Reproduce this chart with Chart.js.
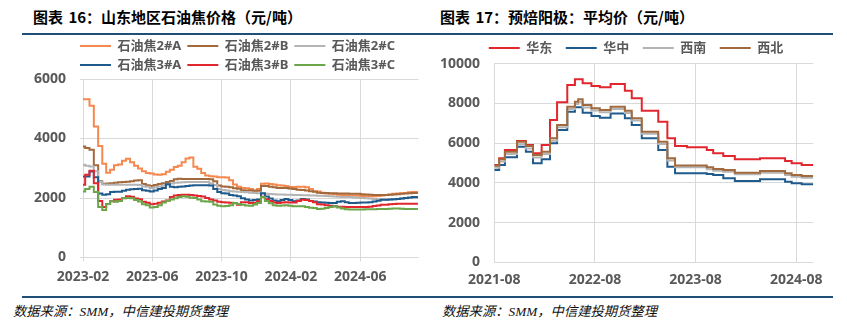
<!DOCTYPE html>
<html><head><meta charset="utf-8">
<script src="https://cdn.jsdelivr.net/npm/chart.js@4.4.1/dist/chart.umd.min.js"></script>
<style>
html,body{margin:0;padding:0;background:#fff;}
body{width:847px;height:334px;position:relative;overflow:hidden;}
.title{position:absolute;top:8px;line-height:18px;font-family:"Noto Sans CJK SC",sans-serif;font-weight:700;font-size:15px;word-spacing:2px;color:#000;white-space:nowrap;}
.rule{position:absolute;left:22px;width:811px;height:2px;background:#1F4E79;}
.src{position:absolute;top:304px;line-height:16px;font-family:"Liberation Serif","Noto Sans CJK SC",serif;font-style:italic;font-size:13.3px;color:#111;white-space:nowrap;}
canvas{position:absolute;top:0;}
</style></head>
<body>
<div class="title" style="left:33px">图表 16：山东地区石油焦价格（元/吨）</div>
<div class="title" style="left:440px">图表 17：预焙阳极：平均价（元/吨）</div>
<div class="rule" style="top:33px"></div>
<div class="rule" style="top:296px"></div>
<div class="src" style="left:13px">数据来源：SMM，中信建投期货整理</div>
<div class="src" style="left:442px">数据来源：SMM，中信建投期货整理</div>
<canvas id="c1" width="420" height="334" style="left:0;width:420px;height:334px"></canvas>
<canvas id="c2" width="427" height="334" style="left:420px;width:427px;height:334px"></canvas>
<script>
// ---------- Chart 1: 山东地区石油焦价格 (weekly) ----------
const dates1 = ['2023-02-01','2023-02-08','2023-02-15','2023-02-22','2023-03-01','2023-03-08','2023-03-15','2023-03-22','2023-03-29','2023-04-05',
'2023-04-12','2023-04-19','2023-04-26','2023-05-03','2023-05-10','2023-05-17','2023-05-24','2023-05-31','2023-06-07','2023-06-14',
'2023-06-21','2023-06-28','2023-07-05','2023-07-12','2023-07-19','2023-07-26','2023-08-02','2023-08-09','2023-08-16','2023-08-23',
'2023-08-30','2023-09-06','2023-09-13','2023-09-20','2023-09-27','2023-10-04','2023-10-11','2023-10-18','2023-10-25','2023-11-01',
'2023-11-08','2023-11-15','2023-11-22','2023-11-29','2023-12-06','2023-12-13','2023-12-20','2023-12-27','2024-01-03','2024-01-10',
'2024-01-17','2024-01-24','2024-01-31','2024-02-07','2024-02-14','2024-02-21','2024-02-28','2024-03-06','2024-03-13','2024-03-20',
'2024-03-27','2024-04-03','2024-04-10','2024-04-17','2024-04-24','2024-05-01','2024-05-08','2024-05-15','2024-05-22','2024-05-29',
'2024-06-05','2024-06-12','2024-06-19','2024-06-26','2024-07-03','2024-07-10','2024-07-17','2024-07-24','2024-07-31','2024-08-07',
'2024-08-14','2024-08-21','2024-08-28','2024-09-04','2024-09-11'];
const names1 = ['石油焦2#A','石油焦2#B','石油焦2#C','石油焦3#A','石油焦3#B','石油焦3#C'];
const coke2A = [5320,5320,5100,4400,3750,3150,2850,2950,3100,3130,3250,3320,3200,3080,2990,2900,2840,2820,2790,2780,
2800,2880,2950,3040,3080,3200,3330,3360,3050,2980,2840,2760,2730,2720,2700,2700,2690,2600,2450,2380,
2340,2330,2300,2250,2300,2480,2490,2470,2450,2430,2420,2400,2370,2370,2380,2380,2360,2300,2230,2220,
2180,2150,2140,2130,2110,2100,2090,2080,2080,2077,2070,2060,2055,2060,2070,2080,2100,2120,2140,2150,
2160,2170,2190,2200,2200];
const coke2B = [3730,3680,3620,3100,2560,2480,2490,2500,2510,2530,2540,2550,2560,2590,2600,2470,2430,2400,2440,2470,
2500,2540,2570,2630,2650,2640,2640,2640,2640,2640,2640,2640,2630,2560,2420,2390,2380,2360,2330,2310,
2260,2250,2250,2245,2245,2400,2400,2380,2360,2340,2335,2335,2320,2300,2280,2270,2250,2230,2210,2180,
2170,2165,2160,2160,2155,2150,2150,2145,2145,2140,2130,2120,2110,2100,2100,2100,2100,2110,2120,2130,
2140,2150,2160,2165,2165];
const coke2C = [3115,3080,3060,2900,2550,2450,2445,2445,2445,2445,2445,2445,2445,2445,2440,2390,2380,2340,2360,2390,
2420,2460,2490,2510,2520,2530,2535,2535,2535,2535,2535,2535,2500,2440,2300,2270,2250,2230,2220,2210,
2200,2190,2180,2165,2160,2150,2140,2135,2130,2120,2115,2110,2110,2105,2100,2095,2090,2085,2080,2077,
2075,2070,2060,2050,2040,2035,2030,2030,2020,2010,2000,1990,1980,1970,1960,1950,1945,1950,1960,1970,
1980,1990,2000,2000,2000];
const coke3A = [2725,2725,2890,2700,2150,2110,2130,2200,2210,2210,2240,2280,2290,2300,2310,2260,2240,2220,2250,2300,
2335,2460,2380,2360,2380,2390,2400,2420,2425,2425,2425,2425,2420,2300,2200,2160,2150,2100,2080,2055,
1990,1950,1920,1930,1950,2160,2050,1980,1920,1890,1930,1965,1930,1890,1920,1965,1950,1900,1880,1860,
1850,1840,1830,1830,1870,1890,1860,1830,1830,1840,1850,1850,1860,1880,1910,1940,1945,1950,1960,1965,
1980,2000,2020,2030,2030];
const coke3B = [2445,2780,2915,2500,1900,1700,1800,1890,1940,1950,1990,2060,2040,1980,1960,1870,1840,1790,1810,1840,
1880,1920,2030,2080,2100,2110,2110,2100,2080,2070,2050,2000,1950,1920,1870,1860,1850,1840,1820,1775,
1860,1860,1830,1840,1890,2040,1960,1900,1850,1830,1850,1860,1850,1850,1900,1945,1930,1900,1860,1790,
1780,1760,1740,1720,1710,1705,1700,1700,1700,1700,1700,1700,1710,1730,1750,1770,1775,1790,1800,1810,
1810,1810,1810,1810,1810];
const coke3C = [2220,2300,2380,2200,1700,1600,1800,1890,1870,1900,2000,2000,1990,1930,1880,1790,1760,1680,1700,1760,
1850,1910,1950,1990,2030,2055,2040,2010,2000,1950,1890,1880,1870,1780,1740,1720,1730,1760,1830,1800,
1775,1750,1740,1780,1830,2030,1900,1820,1760,1740,1750,1760,1740,1720,1720,1720,1700,1670,1665,1630,
1640,1665,1700,1720,1680,1650,1620,1610,1610,1610,1615,1620,1620,1625,1630,1630,1630,1640,1650,1650,
1640,1630,1630,1630,1630];
const xTicks1 = ['2023-02','2023-06','2023-10','2024-02','2024-06'];
const yTicks1 = [0,2000,4000,6000];
const xStart1 = '2023-02-01', xEnd1 = '2024-09-12';

// ---------- Chart 2: 预焙阳极平均价 (step changes) ----------
const dates2 = ['2021-08-01','2021-08-19','2021-09-09','2021-10-23','2021-11-24','2021-12-20','2022-01-21','2022-02-19','2022-03-16','2022-04-22',
'2022-05-20','2022-06-01','2022-06-17','2022-07-19','2022-08-19','2022-09-27','2022-11-18','2022-12-13','2023-01-19','2023-03-18',
'2023-04-20','2023-05-18','2023-06-30','2023-09-11','2023-10-04','2023-11-10','2023-12-22','2024-03-22','2024-06-21','2024-07-15',
'2024-08-21','2024-10-02'];
const names2 = ['华东','华中','西南','西北'];
const eastChina  = [4900,5235,5655,6107,5906,5488,5906,7165,8056,8927,9214,9214,9012,8877,8810,8977,8640,8257,7633,7080,
6243,5856,5790,5655,5488,5352,5186,5236,5100,4985,4900,4900];
const centralCh  = [4648,4900,5287,5822,5570,4985,5186,5990,6660,7583,7804,7804,7532,7366,7281,7490,7250,6913,6243,5655,
4813,4480,4480,4450,4396,4229,4094,4179,4058,3978,3927,3927];
const southwest  = [4760,5080,5450,5950,5730,5280,5450,6120,6800,7720,7970,8090,7800,7640,7550,7720,7520,7140,6470,5960,
5130,4780,4780,4690,4610,4560,4430,4510,4400,4310,4260,4260];
const northwest  = [4865,5186,5570,6073,5856,5403,5570,6243,6913,7835,8086,8207,7920,7754,7668,7835,7633,7250,6576,6073,
5236,4880,4880,4783,4700,4648,4513,4597,4480,4396,4345,4345];
const xTicks2 = ['2021-08','2022-08','2023-08','2024-08'];
const yTicks2 = [0,2000,4000,6000,8000,10000];
const xStart2 = '2021-08-01', xEnd2 = '2024-10-02';

// ---------- helpers ----------
function monthPos(s){
  const p = s.split('-').map(Number);
  const y = p[0], m = p[1], d = p[2] || 1;
  const dim = new Date(y, m, 0).getDate();
  return y*12 + (m-1) + (d-1)/dim;
}
const FONT = '"Noto Sans","Noto Sans CJK SC",sans-serif';
Chart.defaults.font.family = FONT;
Chart.defaults.color = '#595959';
const GRID = '#D9D9D9';

const legendShift = {
  id:'legendShift',
  afterLayout(chart, args, opts){
    const l = chart.legend;
    if (!l || opts.center == null) return;
    const dx = opts.center - (l.left + l.right)/2;
    l.left += dx; l.right += dx;
  }
};

function lineLabels(chart){
  return chart.data.datasets.map((ds,i)=>({
    text: ds.label, fillStyle: ds.borderColor, strokeStyle: ds.borderColor,
    lineWidth: 0, hidden: false, datasetIndex: i, fontColor: '#595959'
  }));
}

function makeChart(id, cfg){
  const base = monthPos(cfg.xStart);
  const toPts = arr => arr.map((v,i)=>({x: monthPos(cfg.dates[i]) - base, y: v}));
  const n = cfg.series.length;
  const datasets = cfg.series.map((s,i)=>({
    label: s.name, data: toPts(s.values), borderColor: s.color, backgroundColor: s.color,
    borderWidth: 2, pointRadius: 0, tension: 0, stepped: cfg.stepped, order: n - i, fill: false
  }));
  const tickVals = cfg.xTicks.map(t => monthPos(t) - base);
  return new Chart(document.getElementById(id), {
    type: 'line',
    data: { datasets },
    plugins: [legendShift],
    options: {
      responsive: false, animation: false, devicePixelRatio: 1,
      layout: { padding: cfg.padding },
      plugins: {
        legend: {
          position: 'top', maxHeight: cfg.legendH,
          labels: { boxWidth: 31, boxHeight: 2, padding: cfg.legendPad, color: '#595959',
            font: { family: FONT, size: 13, weight: 'bold' }, generateLabels: lineLabels }
        },
        legendShift: { center: cfg.legendCenter },
        tooltip: { enabled: false }
      },
      scales: {
        x: {
          type: 'linear', min: 0, max: monthPos(cfg.xEnd) - base,
          afterBuildTicks: sc => { sc.ticks = tickVals.map(v => ({value: v})); },
          afterFit: sc => { sc.height = cfg.xH; },
          ticks: { callback: (v, i) => cfg.xTicks[i], padding: cfg.xPad, maxRotation: 0, autoSkip: false,
            color: '#595959', font: { family: FONT, size: 14, weight: 'bold' } },
          grid: { color: GRID, lineWidth: 1, drawTicks: cfg.xTickLen > 0, tickLength: cfg.xTickLen },
          border: { display: false }
        },
        y: {
          min: 0, max: cfg.yTicks[cfg.yTicks.length-1],
          afterBuildTicks: sc => { sc.ticks = cfg.yTicks.map(v => ({value: v})); },
          afterFit: sc => { sc.width = cfg.yW; },
          ticks: { padding: cfg.yPad, color: '#595959', font: { family: FONT, size: 14, weight: 'bold' },
            callback: v => String(v) },
          grid: { color: GRID, lineWidth: 1, drawTicks: cfg.yTickLen > 0, tickLength: cfg.yTickLen },
          border: { display: false }
        }
      }
    }
  });
}

makeChart('c1', {
  dates: dates1, xStart: xStart1, xEnd: xEnd1, xTicks: xTicks1, yTicks: yTicks1, stepped: 'middle',
  series: [
    {name: names1[0], values: coke2A, color: '#F4884E'},
    {name: names1[1], values: coke2B, color: '#A2693C'},
    {name: names1[2], values: coke2C, color: '#B4B4B4'},
    {name: names1[3], values: coke3A, color: '#1F5A8C'},
    {name: names1[4], values: coke3B, color: '#E1262D'},
    {name: names1[5], values: coke3C, color: '#6BA74A'}
  ],
  padding: {top: 33.5, left: 0, right: 1.5, bottom: 0},
  legendH: 45.5, legendPad: 6, legendCenter: 237.5,
  xH: 76.5, xPad: 7, xTickLen: 4, yW: 83, yPad: 14, yTickLen: 3
});

makeChart('c2', {
  dates: dates2, xStart: xStart2, xEnd: xEnd2, xTicks: xTicks2, yTicks: yTicks2, stepped: true,
  series: [
    {name: names2[0], values: eastChina, color: '#E1262D'},
    {name: names2[1], values: centralCh, color: '#1F5A8C'},
    {name: names2[2], values: southwest, color: '#B4B4B4'},
    {name: names2[3], values: northwest, color: '#A2693C'}
  ],
  padding: {top: 28, left: 0, right: 33.7, bottom: 0},
  legendH: 35.7, legendPad: 13.5, legendCenter: 216,
  xH: 71.7, xPad: 9.3, xTickLen: 0, yW: 74.3, yPad: 14.3, yTickLen: 0
});
</script>
</body></html>
